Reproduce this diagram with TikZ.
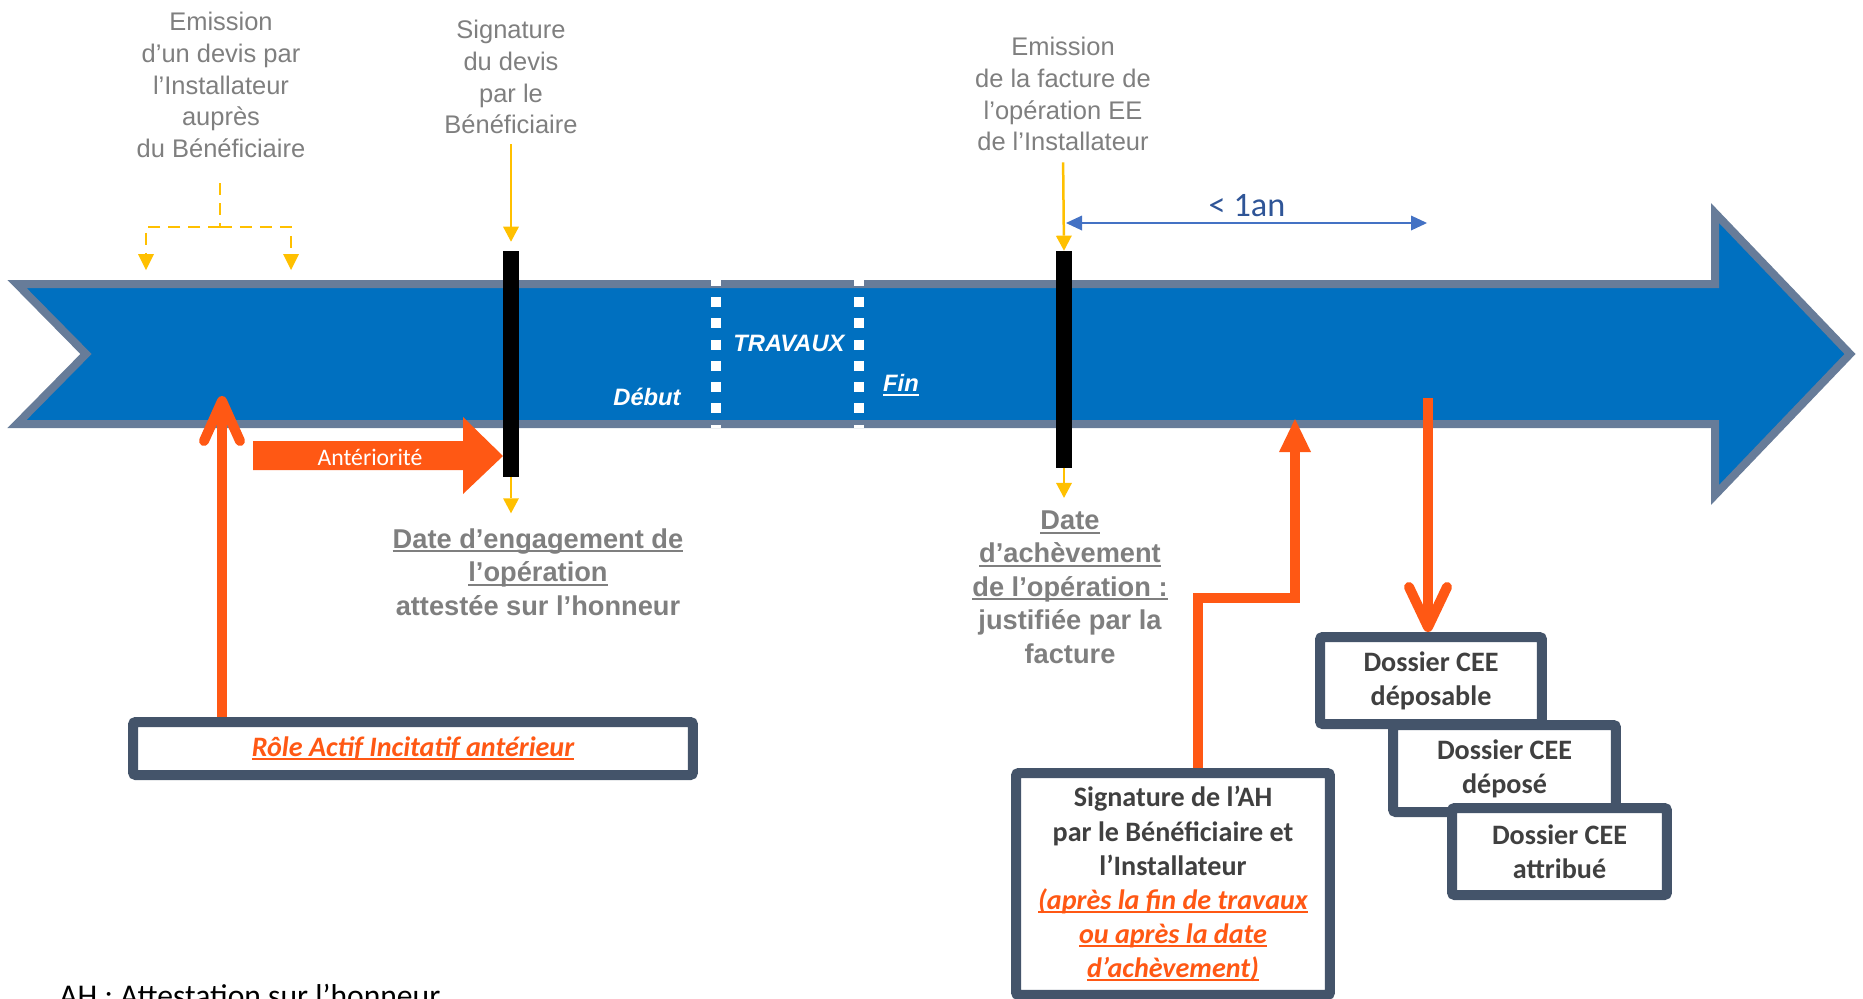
\documentclass[tikz,border=0pt]{standalone}
\usepackage{fontspec}
\setmainfont{Liberation Sans}
\newfontfamily\calib{Carlito}
\usetikzlibrary{arrows.meta}
\definecolor{fleche}{RGB}{0,112,192}
\definecolor{bordfleche}{RGB}{103,124,153}
\definecolor{gristxt}{RGB}{127,127,127}
\definecolor{ardoise}{RGB}{68,84,106}
\definecolor{orangevif}{RGB}{255,88,20}
\definecolor{jaune}{RGB}{255,192,0}
\definecolor{bleuduree}{RGB}{68,114,196}
\definecolor{bleutexte}{RGB}{47,85,151}
\definecolor{sombre}{RGB}{64,64,64}
\newsavebox\soulbox
\newcommand{\souligne}[1]{\sbox\soulbox{#1}\rlap{\rule[-2.3pt]{\wd\soulbox}{1.1pt}}\usebox\soulbox}
\tikzset{
  gris/.style={text=gristxt, align=center, inner sep=0pt, font=\fontsize{14.5}{18.1}\selectfont},
  grisgras/.style={text=gristxt, align=center, inner sep=0pt, font=\bfseries\fontsize{15.5}{19}\selectfont},
  blanc/.style={text=white, inner sep=0pt, font=\bfseries\itshape\fontsize{13.5}{16}\selectfont},
  barre/.style={fill=black, inner sep=0pt, minimum width=0.33cm},
  cadre/.style={draw=ardoise, line width=0.2cm, fill=white, rounded corners=1.5pt, inner sep=0pt, align=center, text=sombre, font=\calib\bfseries\fontsize{16}{19.4}\selectfont},
  jfl/.style={draw=jaune, line width=0.05cm, -{Triangle[length=0.3cm,width=0.32cm,line width=0pt]}},
  jtiret/.style={draw=jaune, line width=0.055cm, dash pattern=on 0.24cm off 0.16cm},
  ofl/.style={draw=orangevif, line width=0.2cm},
}

\begin{document}
\begin{tikzpicture}[x=0.02cm,y=-0.02cm]
\useasboundingbox (0,0) rectangle (1863,998);
\draw[line width=0.16cm, draw=bordfleche, fill=fleche, line join=miter] (17,284) -- (1715,284) -- (1715,213) -- (1850,354) -- (1715,495) -- (1715,424) -- (17,424) -- (86,354) -- cycle;
\foreach \x in {716,859}
  \draw[white, line width=0.214cm, dash pattern=on 0.2cm off 0.226cm, dash phase=0.086cm] (\x,280) -- (\x,428);
\node[blanc] (travaux) at (789,343) {TRAVAUX};
\node[blanc] (debut) at (647,397) {Début};
\node[blanc] (fin) at (901,385) {\souligne{Fin}};

\node[barre, minimum height=4.52cm] (b1) at (511,364) {};
\node[barre, minimum height=4.34cm] (b2) at (1064,359.5) {};

\node[gris] (devis) at (221,85) {Emission\\d’un devis par\\l’Installateur\\auprès\\du Bénéficiaire};
\node[gris] (signe) at (511,77) {Signature\\du devis\\par le\\Bénéficiaire};
\node[gris] (facture) at (1063,94) {Emission\\de la facture de\\l’opération EE\\de l’Installateur};
\node[grisgras] (engage) at (538,572) {\souligne{Date d’engagement de}\\\souligne{l’opération}\\attestée sur l’honneur};
\node[grisgras] (acheve) at (1070,587) {\souligne{Date}\\\souligne{d’achèvement}\\\souligne{de l’opération :}\\justifiée par la\\facture};

\coordinate (fourche) at (220,227);
\coordinate (pg) at (146,270);
\coordinate (pd) at (291,270);
\draw[jtiret, shorten <=0.5cm] (devis.south -| fourche) -- (fourche);
\draw[jtiret, -{Triangle[length=0.32cm,width=0.32cm,line width=0pt]}] (fourche) -| (pg);
\draw[jtiret, -{Triangle[length=0.32cm,width=0.32cm,line width=0pt]}] (fourche) -| (pd);
\draw[jfl, shorten <=0.2cm, shorten >=0.18cm] (signe.south) -- (b1.north);
\draw[jfl, shorten >=0.3cm] (b1.south) -- (b1.south |- engage.north);
\draw[jfl, shorten <=0.22cm] (facture.south) -- (b2.north);
\draw[jfl, shorten >=0.25cm] (b2.south) -- (b2.south |- acheve.north);

\fill[orangevif] (253,441) -- (463,441) -- (463,417) -- (503,456) -- (463,494) -- (463,470) -- (253,470) -- cycle;
\node[text=white, inner sep=0pt, font=\calib\fontsize{13.5}{16}\selectfont] (anteriorite) at (370,457) {Antériorité};

\node[cadre, minimum width=11.2cm, minimum height=1.06cm, text=orangevif, font=\calib\bfseries\itshape\fontsize{16}{19}\selectfont] (role) at (413,748.5) {\souligne{Rôle Actif Incitatif antérieur}};
\node[cadre, minimum width=6.28cm, minimum height=4.44cm] (ah) at (1173,884) {Signature de l’AH\\par le Bénéficiaire et\\l’Installateur\\{\color{orangevif}\itshape\souligne{(après la fin de travaux}}\\{\color{orangevif}\itshape\souligne{ou après la date}}\\{\color{orangevif}\itshape\souligne{d’achèvement)}}};
\node[cadre, minimum width=4.44cm, minimum height=1.74cm] (dos1) at (1431,680.5) {Dossier CEE\\déposable};
\node[cadre, minimum width=4.46cm, minimum height=1.74cm] (dos2) at (1504.5,768.5) {Dossier CEE\\déposé};
\node[cadre, minimum width=4.3cm, minimum height=1.74cm] (dos3) at (1559.5,851.5) {Dossier CEE\\attribué};

\coordinate (pointe1) at (222,396);
\draw[ofl, -{Straight Barb[round, length=0.8cm, width=0.72cm]}] (role.north -| pointe1) -- (pointe1);
\coordinate (marche) at (1198,598);
\coordinate (coude) at (1295,598);
\coordinate (pointe2) at (1295,419);
\draw[ofl, line join=miter, -{Triangle[length=0.66cm, width=0.64cm, line width=0pt]}] (ah.north -| marche) -- (marche) -- (coude) -- (pointe2);
\coordinate (depot) at (1428,398);
\draw[ofl, -{Straight Barb[round, length=0.8cm, width=0.76cm]}] (depot) -- (dos1.north -| depot);

\coordinate (an0) at (1066,223);
\coordinate (an1) at (1427,223);
\draw[bleuduree, line width=0.04cm, {Triangle[length=0.32cm,width=0.3cm,line width=0pt]}-{Triangle[length=0.32cm,width=0.3cm,line width=0pt]}] (an0) -- (an1);
\node[text=bleutexte, inner sep=0pt, font=\calib\fontsize{19.5}{23}\selectfont] (duree) at (1247,206) {< 1an};

\node[anchor=base west, inner sep=0pt, font=\calib\fontsize{18}{22}\selectfont] (legende) at (59,1006) {AH : Attestation sur l’honneur};
\end{tikzpicture}
\end{document}
